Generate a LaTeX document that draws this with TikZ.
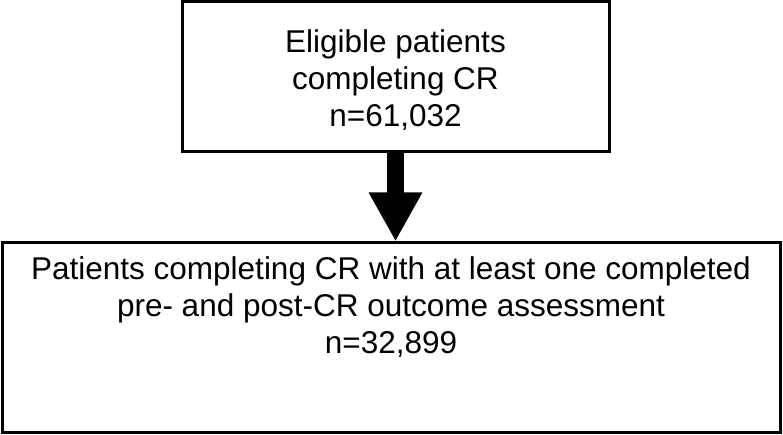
\documentclass[tikz,border=0pt]{standalone}
\usepackage{fontspec}
\setmainfont{Liberation Sans}
\usetikzlibrary{arrows.meta}

\begin{document}
\begin{tikzpicture}[x=1pt,y=-1pt]

      \useasboundingbox (0,0) rectangle (783,435);

      \begin{scope}[every node/.style={rectangle,draw,line width=3pt,inner sep=0pt}]
        \node[minimum width=427pt,minimum height=150pt] (1) at (395.5,77) {};
        \node[minimum width=778pt,minimum height=189pt] (2) at (391,337.5) {};
      \end{scope}

      \begin{scope}[every node/.style={align=center,inner sep=0pt,font=\fontsize{31.5}{37}\selectfont}]
        \node (t1) at (395.5,80) {Eligible patients\\completing CR\\n=61,032};
        \node (t2) at (391,307) {Patients completing CR with at least one completed\\pre- and post-CR outcome assessment\\n=32,899};
      \end{scope}

      \draw[line width=17pt,-{Triangle[width=50pt,length=49pt]}] (1.south) -- (1.south |- 2.north);

    \end{tikzpicture}
\end{document}
